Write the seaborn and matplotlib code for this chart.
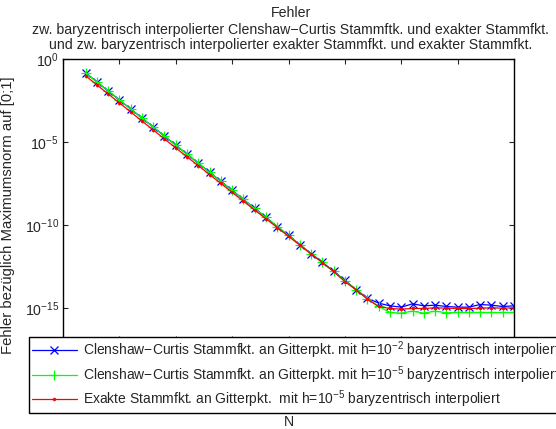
import numpy as np
import pandas as pd
import matplotlib
matplotlib.use("Agg")
import matplotlib.pyplot as plt
import seaborn as sns
from matplotlib.ticker import LogFormatterSciNotation, NullLocator

sns.set_style("ticks")
plt.rcParams["font.family"] = ["Liberation Sans", "DejaVu Sans"]
plt.rcParams["mathtext.default"] = "regular"

# Polynomial degree N
N = list(range(4, 81, 2))

# log10 of the max-norm error on [0;1]
log_err_cc_h2 = [
    -0.83, -1.38, -1.92, -2.47, -3.01, -3.56, -4.10, -4.65, -5.19, -5.74,
    -6.28, -6.83, -7.37, -7.92, -8.46, -9.01, -9.55, -10.10, -10.64, -11.19,
    -11.73, -12.25, -12.80, -13.35, -13.90, -14.42, -14.72,
    -14.88, -14.96, -14.76, -14.88, -14.84, -14.92, -14.96, -14.96, -14.80,
    -14.84, -14.92, -14.88,
]
log_err_cc_h5 = [
    -0.83, -1.38, -1.92, -2.47, -3.01, -3.56, -4.10, -4.65, -5.19, -5.74,
    -6.28, -6.83, -7.37, -7.92, -8.46, -9.01, -9.55, -10.10, -10.64, -11.19,
    -11.73, -12.26, -12.81, -13.36, -13.91, -14.44, -14.92,
    -15.28, -15.32, -15.20, -15.32, -15.20, -15.30, -15.28, -15.28, -15.28,
    -15.28, -15.28, -15.28,
]
log_err_exact_h5 = [
    -1.01, -1.56, -2.10, -2.65, -3.19, -3.74, -4.28, -4.82, -5.36, -5.90,
    -6.43, -6.97, -7.50, -8.04, -8.57, -9.11, -9.63, -10.16, -10.69, -11.22,
    -11.75, -12.27, -12.81, -13.42, -13.92, -14.48, -14.92,
    -15.04, -15.08, -15.04, -15.04, -15.00, -15.02, -15.04, -15.04, -15.02,
    -15.00, -15.02, -15.00,
]

labels = [
    "Clenshaw\u2212Curtis Stammfkt. an Gitterpkt. mit h=10$^{-2}$ baryzentrisch interpoliert",
    "Clenshaw\u2212Curtis Stammfkt. an Gitterpkt. mit h=10$^{-5}$ baryzentrisch interpoliert",
    "Exakte Stammfkt. an Gitterpkt.  mit h=10$^{-5}$ baryzentrisch interpoliert",
]
title_lines = [
    "Fehler",
    "zw. baryzentrisch interpolierter Clenshaw\u2212Curtis Stammftk. und exakter Stammfkt.",
    "und zw. baryzentrisch interpolierter exakter Stammfkt. und exakter Stammfkt.",
]

FS = 10.2
fig = plt.figure(figsize=(5.56, 4.29), dpi=100)
W, H = 556, 429
ax = fig.add_axes([63 / W, 1 - 341 / H, (514 - 63) / W, (341 - 59) / H])

styles = [
    dict(color="#0000ff", marker="x", markersize=5.5, markeredgewidth=0.9),
    dict(color="#00ff00", marker="+", markersize=7.5, markeredgewidth=0.9),
    dict(color="#ff0000", marker=".", markersize=4, markeredgewidth=0.5),
]
for logs, lab, st in zip([log_err_cc_h2, log_err_cc_h5, log_err_exact_h5], labels, styles):
    df = pd.DataFrame({"N": N, "err": 10.0 ** np.array(logs)})
    sns.lineplot(data=df, x="N", y="err", ax=ax, label=lab, linewidth=0.9,
                 markeredgecolor=st["color"], **st)

ax.set_yscale("log")
ax.set_xlim(0, 80)
ax.set_ylim(1e-17, 1e0)
ax.set_xticks(range(0, 81, 10))
ax.set_yticks([1e-15, 1e-10, 1e-5, 1e0])
ax.yaxis.set_minor_locator(NullLocator())
ax.yaxis.set_major_formatter(LogFormatterSciNotation())
ax.tick_params(direction="in", length=3.5, width=0.8, top=True, right=True,
               labelsize=FS, pad=3)
ax.tick_params(axis="x", labelbottom=False)
for s in ax.spines.values():
    s.set_linewidth(1.0)
    s.set_color("black")

ax.set_xlabel("N", fontsize=FS)
ax.xaxis.set_label_coords(0.5, -0.262)
ax.set_ylabel("Fehler bezüglich Maximumsnorm auf [0;1]", fontsize=10.7)
ax.yaxis.set_label_coords(-0.106, 0.445)

for txt, yp in zip(title_lines, [13, 30, 45]):
    fig.text(291 / W, 1 - yp / H, txt, ha="center", va="center", fontsize=FS)

leg = ax.legend(loc="upper left", bbox_to_anchor=(29 / W, 1 - 336.5 / H),
                bbox_transform=fig.transFigure, fontsize=10.0, frameon=True,
                fancybox=False, framealpha=1, edgecolor="black",
                handlelength=3.2, handletextpad=0.45, labelspacing=0.2,
                borderpad=0.22, borderaxespad=0)
leg.get_frame().set_linewidth(1.0)

fig.savefig("out.png", dpi=100)
